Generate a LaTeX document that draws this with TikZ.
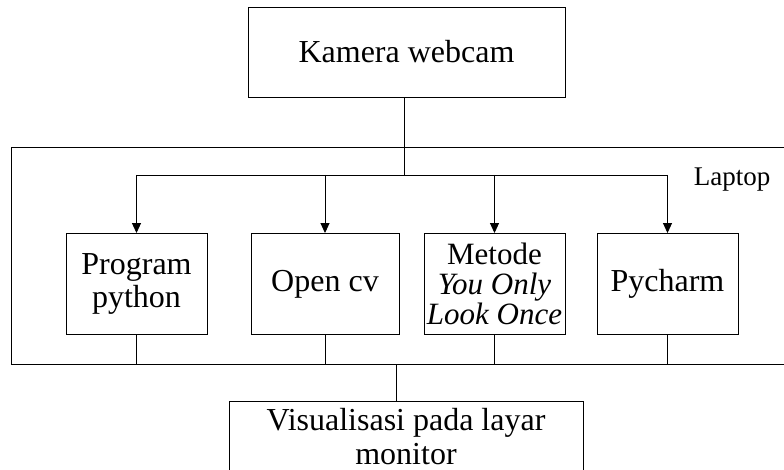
\documentclass[tikz,border=0pt]{standalone}
\usepackage{fontspec}
\setmainfont{Liberation Serif}
\usepackage{tikz}
\usetikzlibrary{arrows.meta,positioning}

\begin{document}
\begin{tikzpicture}[
  x=1pt, y=-1pt,
  box/.style={rectangle, draw, line width=0.9pt, minimum width=141pt, minimum height=101pt, align=center, inner sep=2pt, font=\fontsize{32}{34}\selectfont},
  frame/.style={rectangle, draw, line width=0.9pt},
  arr/.style={-{Triangle[length=10pt,width=9pt]}, line width=0.9pt},
  ln/.style={line width=0.9pt}
]
  \useasboundingbox (0,0) rectangle (784,470);
  \clip (0,0) rectangle (784,470);

  \node[box, minimum width=317pt, minimum height=90pt, font=\fontsize{32}{34}\selectfont] (cam) at (406.5,52) {Kamera webcam};
  \node[frame, minimum width=789pt, minimum height=217pt] (laptop) at (405.5,255.5) {};
  \node[font=\fontsize{27}{29}\selectfont] (lbl) at (732,180) {Laptop};
  \node[box] (prog) at (136.5,284) {\raisebox{-4pt}{\shortstack{Program\\[1pt]python}}};
  \node[box, minimum width=148pt] (ocv) at (325,284) {Open cv};
  \node[box, font=\fontsize{31}{30}\selectfont] (yolo) at (494.5,284) {Metode\\\textit{You Only}\\\textit{Look Once}};
  \node[box] (pych) at (667.5,284) {Pycharm};
  \node[box, minimum width=354pt, minimum height=70pt, anchor=north] (vis) at (406,401) {Visualisasi pada layar\\monitor};

  \coordinate (busT) at (404,175);
  \coordinate (busB) at (396,364);

  \draw[ln] (busT |- cam.south) -- (busT);
  \draw[ln] (prog.north |- busT) -- (pych.north |- busT);
  \foreach \n in {prog,ocv,yolo,pych}
    \draw[arr] (\n.north |- busT) -- (\n.north);
  \foreach \n in {prog,ocv,yolo,pych}
    \draw[ln] (\n.south) -- (\n.south |- busB);
  \draw[ln] (prog.south |- busB) -- (pych.south |- busB);
  \draw[ln] (busB) -- (busB |- vis.north);
\end{tikzpicture}
\end{document}
